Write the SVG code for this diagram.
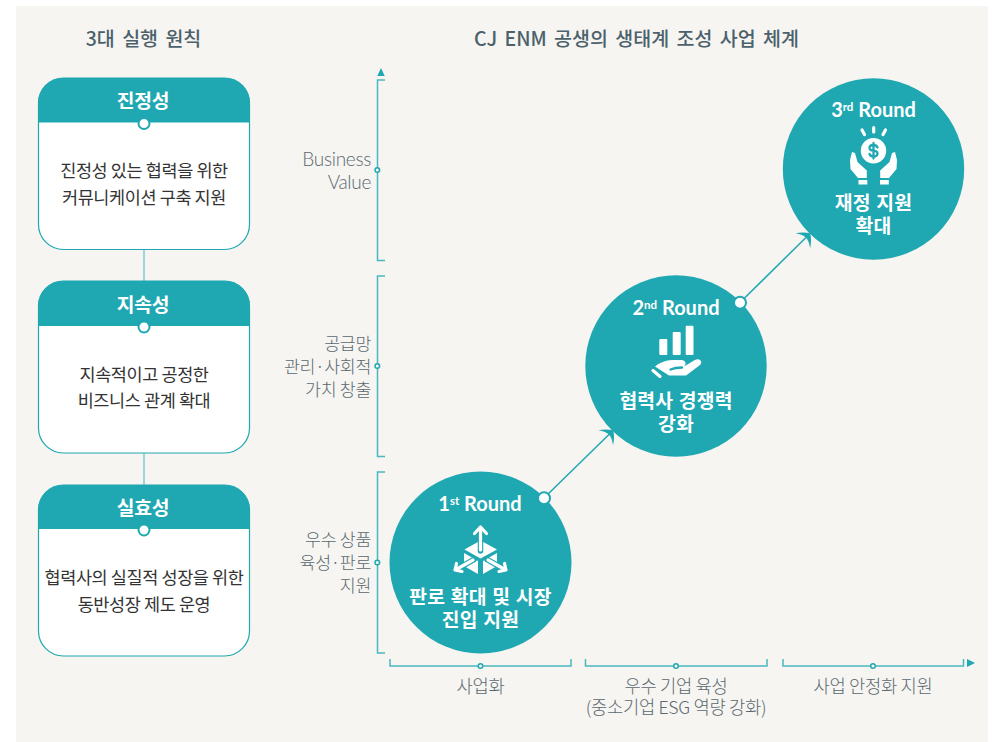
<svg xmlns="http://www.w3.org/2000/svg" width="995" height="742" viewBox="0 0 995 742">
<style>
text{font-family:"Noto Sans CJK KR","Noto Sans",sans-serif}
.title{font-size:19.500px;font-weight:500;fill:#4b616c;text-anchor:middle;word-spacing:3px}
.head{font-size:19.300px;font-weight:700;fill:#fff;text-anchor:middle;letter-spacing:-.3px}
.body{font-size:17.500px;fill:#333;text-anchor:middle;letter-spacing:-.4px}
.axis{font-size:17.300px;font-weight:300;fill:#5a6870;text-anchor:end;letter-spacing:-.3px}
.axisb{font-size:17.700px;font-weight:300;fill:#5a6870;text-anchor:middle;letter-spacing:-.3px}
.en{font-family:Lato,"Liberation Sans",sans-serif;font-size:19px;font-weight:300;fill:#5a6870;text-anchor:end;letter-spacing:-.3px}
.round{font-family:Lato,"Liberation Sans",sans-serif;font-size:20px;font-weight:700;fill:#fff;text-anchor:middle}
.sup{font-size:11.500px}
.lab{font-size:19.300px;font-weight:700;fill:#fff;text-anchor:middle;letter-spacing:.2px;word-spacing:1px}
.card{fill:#fff;stroke:#1fa8b2;stroke-width:1.2}
.hd{fill:#1fa8b2}
.dot{fill:#fff;stroke:#1fa8b2;stroke-width:2}
.cir{fill:#1fa8b2}
.brk{fill:none;stroke:#49b8c0;stroke-width:1.5}
.tick{fill:#f6f5f1;stroke:#1fa8b2;stroke-width:1.5}
.link{fill:none;stroke:#7fcbd2;stroke-width:1.5}
.flow{fill:none;stroke:#1fa8b2;stroke-width:1.5;marker-end:url(#ah)}
.w{fill:#fff}
.ws{fill:none;stroke:#fff;stroke-width:3.2;stroke-linecap:round;stroke-linejoin:round}
.ts{fill:none;stroke:#1fa8b2;stroke-linecap:round;stroke-linejoin:round}
</style>
<defs>
<marker id="ah" markerUnits="userSpaceOnUse" viewBox="0 -11 11 22" refX="6" refY="0" markerWidth="11" markerHeight="22" orient="auto">
<path d="M10.500 0Q7 -6 0 -10.500Q4.500 -4 4.500 0Q4.500 4 0 10.500Q7 6 10.500 0Z" fill="#1fa8b2"/>
</marker>
</defs>
<rect x="16" y="6" width="972" height="736" fill="#f6f5f1"/>

<g id="connectors">
<path class="link" d="M144 250V281M144 453V485"/>
<path class="flow" d="M544 498L610 433.500"/>
<path class="flow" d="M740 302.500L807 236.500"/>
</g>

<text class="title" x="143.500" y="46">3대 실행 원칙</text>
<text class="title" x="636.500" y="46">CJ ENM 공생의 생태계 조성 사업 체계</text>

<g id="card-1">
<rect class="card" x="38.500" y="78" width="211" height="171.500" rx="25"/>
<path class="hd" d="M38 122.500V103A25 25 0 0 1 63 78H225A25 25 0 0 1 250 103V122.500Z"/>
<circle class="dot" cx="144" cy="123.500" r="5.500"/>
<text class="head" x="143" y="107.500">진정성</text>
<text class="body" x="144" y="177">진정성 있는 협력을 위한</text>
<text class="body" x="144" y="204">커뮤니케이션 구축 지원</text>
</g>
<g id="card-2">
<rect class="card" x="38.500" y="281" width="211" height="172" rx="25"/>
<path class="hd" d="M38 326V306A25 25 0 0 1 63 281H225A25 25 0 0 1 250 306V326Z"/>
<circle class="dot" cx="144" cy="327" r="5.500"/>
<text class="head" x="143" y="311.500">지속성</text>
<text class="body" x="144" y="381">지속적이고 공정한</text>
<text class="body" x="144" y="407">비즈니스 관계 확대</text>
</g>
<g id="card-3">
<rect class="card" x="38.500" y="485" width="211" height="171" rx="25"/>
<path class="hd" d="M38 529V510A25 25 0 0 1 63 485H225A25 25 0 0 1 250 510V529Z"/>
<circle class="dot" cx="144" cy="530" r="5.500"/>
<text class="head" x="143" y="514.500">실효성</text>
<text class="body" x="144" y="584">협력사의 실질적 성장을 위한</text>
<text class="body" x="144" y="611">동반성장 제도 운영</text>
</g>

<g id="axis-y">
<path d="M377.300 76L381 68L384.700 76Z" fill="#1fa8b2"/>
<path class="brk" d="M385 80H377.500V260.500H385"/>
<path class="brk" d="M385 276H377.500V456.500H385"/>
<path class="brk" d="M385 472H377.500V653H385"/>
<circle class="tick" cx="377.300" cy="170" r="2.300"/>
<circle class="tick" cx="377.300" cy="366" r="2.300"/>
<circle class="tick" cx="377.300" cy="562.500" r="2.300"/>
<text class="en" x="371" y="165.500">Business</text>
<text class="en" x="371" y="188.500">Value</text>
<text class="axis" x="371" y="349.500">공급망</text>
<text class="axis" x="371" y="372.500">관리·사회적</text>
<text class="axis" x="371" y="395.500">가치 창출</text>
<text class="axis" x="371" y="546">우수 상품</text>
<text class="axis" x="371" y="569">육성·판로</text>
<text class="axis" x="371" y="591.500">지원</text>
</g>

<g id="axis-x">
<path class="brk" d="M390 659V666H571V659"/>
<path class="brk" d="M585.500 659V666H767V659"/>
<path class="brk" d="M783 659V666H963.500V659"/>
<path d="M967 659L975 663L967 667Z" fill="#1fa8b2"/>
<circle class="tick" cx="480.500" cy="666" r="2.300"/>
<circle class="tick" cx="676" cy="666" r="2.300"/>
<circle class="tick" cx="873" cy="666" r="2.300"/>
<text class="axisb" x="480.500" y="692.500">사업화</text>
<text class="axisb" x="676" y="692.500">우수 기업 육성</text>
<text class="axisb" x="676" y="714">(중소기업 ESG 역량 강화)</text>
<text class="axisb" x="873" y="692.500">사업 안정화 지원</text>
</g>

<g id="round-1">
<circle class="cir" cx="480.500" cy="562.500" r="91"/>
<circle class="dot" cx="544" cy="498.300" r="6"/>
<text class="round" x="480" y="510.500">1<tspan class="sup" dy="-6">st</tspan><tspan dy="6"> Round</tspan></text>
<path class="w" d="M464.500 549.500L480.500 540.500L497 549.500L480.500 558.500Z"/>
<path class="w" d="M464 553L478 561V574L464 566Z"/>
<path class="w" d="M497 553L483 561V574L497 566Z"/>
<path class="ts" stroke-width="5.500" d="M480.500 532V551M474 559.500L457 569M487 559.500L504 569"/>
<path class="ws" d="M480.500 528V550M474.500 533.500L480.500 527L486.500 533.500M473 560L456 569.500M456.500 563.500L455 570L462 571.500M488 560L505 569.500M504.500 563.500L506 570L499 571.500"/>
<text class="lab" x="480.500" y="604">판로 확대 및 시장</text>
<text class="lab" x="480.500" y="627">진입 지원</text>
</g>

<g id="round-2">
<circle class="cir" cx="676" cy="366" r="90.700"/>
<circle class="dot" cx="740" cy="302.700" r="6"/>
<text class="round" x="676" y="314.500">2<tspan class="sup" dy="-6">nd</tspan><tspan dy="6"> Round</tspan></text>
<rect class="w" x="659.300" y="339" width="8" height="16" rx="1"/>
<rect class="w" x="672.700" y="332" width="8" height="23" rx="1"/>
<rect class="w" x="685.700" y="325.700" width="7.800" height="29.300" rx="1"/>
<path class="w" d="M655 366.500Q663 360 672 360H682Q686 360.500 685.500 364.500L684 366.500L694 360.500Q699 358 701 361Q702 363 700 365L686 375.500H669Z"/>
<path class="ts" stroke-width="2.400" d="M670.500 369.500Q675 367.500 682 367.500"/>
<path class="ws" stroke-width="4.600" d="M653 370.500L660 376.500"/>
<text class="lab" x="676" y="408">협력사 경쟁력</text>
<text class="lab" x="676" y="431">강화</text>
</g>

<g id="round-3">
<circle class="cir" cx="873.500" cy="169" r="90.700"/>
<text class="round" x="873.500" y="117">3<tspan class="sup" dy="-6">rd</tspan><tspan dy="6"> Round</tspan></text>
<circle class="w" cx="873.500" cy="150.700" r="12.700"/>
<path class="ts" stroke-width="2.300" d="M877.500 147.500Q876.500 145 873.500 145Q869.500 145 869.500 148Q869.500 150.500 873.500 150.700Q877.500 151 877.500 153.500Q877.500 156.500 873.500 156.500Q870.500 156.500 869.500 154M873.500 143V158.500"/>
<path class="ws" d="M862 130L864.500 134.500M873.700 127.500V132M885.500 130L883 134.500"/>
<path class="w" d="M852 152L855 153L857.500 162L866.800 170.500V178H858L850.500 169L850 160Z"/>
<path class="w" d="M895 152L892 153L889.500 162L880.200 170.500V178H889L896.500 169L897 160Z"/>
<rect class="w" x="858.500" y="180" width="8.800" height="4.500"/>
<rect class="w" x="880" y="180" width="8.800" height="4.500"/>
<text class="lab" x="873.500" y="210">재정 지원</text>
<text class="lab" x="873.500" y="233">확대</text>
</g>
</svg>
